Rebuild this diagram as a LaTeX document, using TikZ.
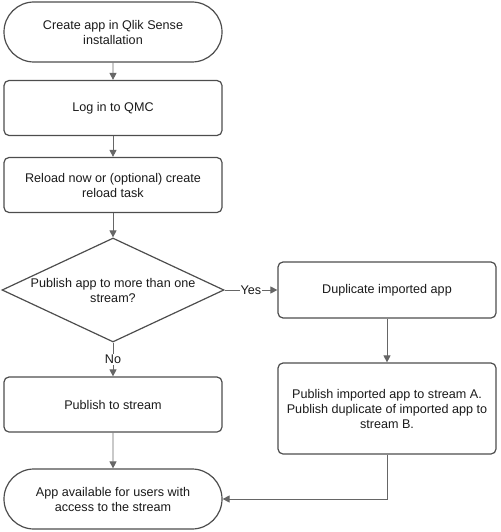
\documentclass[tikz,border=0pt]{standalone}
\usepackage{fontspec}
\setmainfont{Liberation Sans}
\usetikzlibrary{shapes.geometric,shapes.misc,arrows.meta}
\definecolor{boxline}{HTML}{4D4D4D}
\definecolor{arrowline}{HTML}{666666}
\definecolor{txt}{HTML}{1A1A1A}

\begin{document}
\begin{tikzpicture}[x=1pt, y=-1pt,
	every node/.style = {font=\fontsize{12.6}{15}\selectfont, text=txt, align=center},
	process/.style = {draw=boxline, line width=1.2pt, rounded corners=5pt, minimum width=218pt, minimum height=55pt, inner sep=0pt},
	terminal/.style = {draw=boxline, line width=1.2pt, rounded rectangle, minimum width=218pt, minimum height=60pt, inner sep=0pt},
	decision/.style = {draw=boxline, line width=1.2pt, diamond, aspect=2.1, minimum width=222pt, minimum height=104pt, inner sep=0pt},
	flow/.style = {draw=arrowline, line width=0.9pt, -{Triangle[length=7pt,width=7pt]}},
	tag/.style = {fill=white, inner sep=1pt}]
	\useasboundingbox (0,0) rectangle (500,532);
	% left column
	\node[terminal] (create) at (113,32) {Create app in Qlik Sense\\installation};
	\node[process] (login) at (113,108) {Log in to QMC};
	\node[process] (reload) at (113,185) {Reload now or (optional) create\\reload task};
	\node[decision] (decide) at (113,290) {Publish app to more than one\\stream?};
	\node[process] (publish) at (113,404.5) {Publish to stream};
	\node[terminal] (avail) at (113,499) {App available for users with\\access to the stream};
	% right column
	\node[process, minimum height=56pt] (dup) at (387,290) {Duplicate imported app};
	\node[process, minimum height=91pt] (pubab) at (387,408.5) {Publish imported app to stream A.\\Publish duplicate of imported app to\\stream B.};
	% connectors
	\draw[flow] (create) -- (login);
	\draw[flow] (login) -- (reload);
	\draw[flow] (reload) -- (decide);
	\draw[flow] (decide.east) -- node[tag] {Yes} (dup.west);
	\draw[flow] (decide.south) -- node[tag] {No} (publish.north);
	\draw[flow] (dup) -- (pubab);
	\draw[flow] (publish) -- (avail);
	\draw[flow] (pubab.south) |- (avail.east);
\end{tikzpicture}
\end{document}
